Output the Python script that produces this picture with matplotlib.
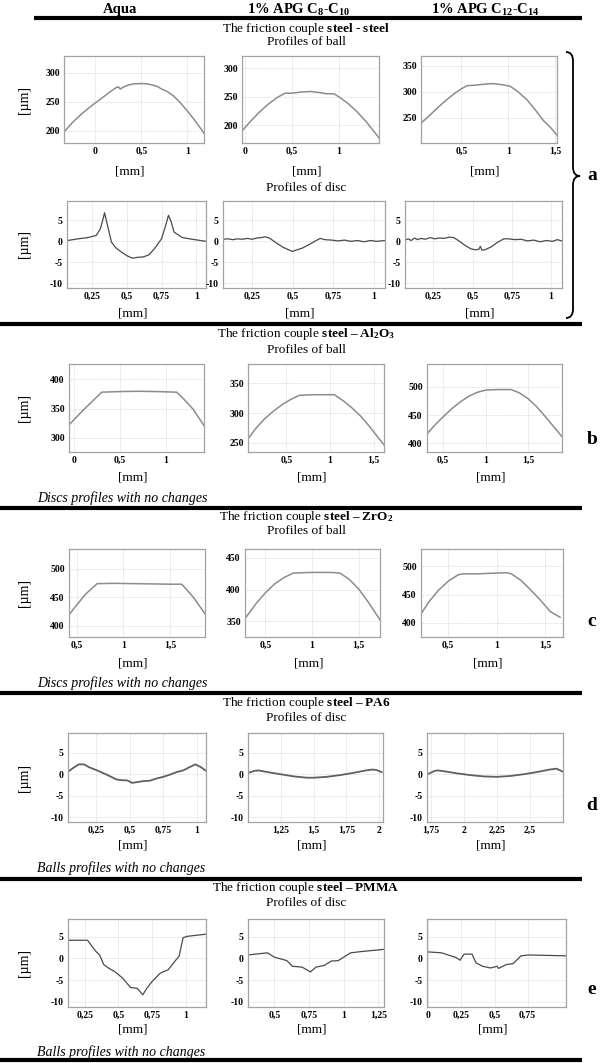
import matplotlib
matplotlib.use('Agg')
import matplotlib.pyplot as plt
from matplotlib.lines import Line2D
from matplotlib.path import Path
from matplotlib.patches import PathPatch

plt.rcParams['font.family'] = 'Liberation Serif'
plt.rcParams['mathtext.fontset'] = 'custom'
plt.rcParams['mathtext.rm'] = 'Liberation Serif'
plt.rcParams['mathtext.bf'] = 'Liberation Serif:bold'
plt.rcParams['mathtext.it'] = 'Liberation Serif:italic'

# ---- text ----
headers = ['Aqua',
           r'$\mathbf{1\%\ APG\ C_{8}}$-$\mathbf{C_{10}}$',
           r'$\mathbf{1\%\ APG\ C_{12}}$-$\mathbf{C_{14}}$']
couples = [r'The friction couple $\mathbf{steel}$ - $\mathbf{steel}$',
           r'The friction couple $\mathbf{steel\ –\ Al_2O_3}$',
           r'The friction couple $\mathbf{steel\ –\ ZrO_2}$',
           r'The friction couple $\mathbf{steel\ –\ PA6}$',
           r'The friction couple $\mathbf{steel\ –\ PMMA}$']
row_labels = ['a', 'b', 'c', 'd', 'e']

# ---- data: x in mm, y in um; one list per column (Aqua, C8-C10, C12-C14) ----
a_ball_x = [[-0.34, -0.25, -0.15, -0.05, 0.05, 0.15, 0.22, 0.25, 0.27, 0.3, 0.36, 0.42, 0.5, 0.56,
             0.62, 0.68, 0.72, 0.78, 0.85, 0.92, 1.0, 1.08, 1.18],
            [-0.03, 0.05, 0.15, 0.25, 0.35, 0.43, 0.5, 0.6, 0.7, 0.8, 0.87, 0.95, 1.0, 1.1, 1.2, 1.3, 1.43],
            [0.07, 0.15, 0.22, 0.28, 0.35, 0.42, 0.5, 0.56, 0.65, 0.75, 0.84, 0.93, 1.02, 1.1, 1.2,
             1.3, 1.37, 1.45, 1.52]]
a_ball_y = [[198, 214, 229, 242, 254, 266, 274, 276, 272, 275, 279, 281, 281.5, 281,
             279, 276, 272, 268, 260, 249, 234, 218, 196],
            [190, 205, 222, 237, 249, 256, 256, 258, 259, 257, 255, 255, 250, 238, 223, 205, 178],
            [240, 253, 265, 275, 286, 296, 306, 312, 313, 315, 316, 314, 311, 301, 285,
             263, 246, 232, 217]]

a_disc_x = [[0.074, 0.14, 0.22, 0.28, 0.31, 0.33, 0.34, 0.35, 0.37, 0.39, 0.42, 0.46, 0.5, 0.54, 0.58,
             0.62, 0.66, 0.7, 0.75, 0.78, 0.8, 0.82, 0.84, 0.9, 0.97, 1.07],
            [0.07, 0.1, 0.13, 0.16, 0.19, 0.22, 0.25, 0.28, 0.31, 0.33, 0.36, 0.4, 0.44, 0.48, 0.5,
             0.52, 0.56, 0.6, 0.64, 0.67, 0.7, 0.74, 0.78, 0.82, 0.86, 0.9, 0.94, 0.98, 1.02, 1.07],
            [0.07, 0.09, 0.11, 0.13, 0.15, 0.17, 0.2, 0.23, 0.26, 0.29, 0.32, 0.35, 0.38, 0.41, 0.45,
             0.49, 0.52, 0.54, 0.55, 0.56, 0.58, 0.62, 0.66, 0.7, 0.73, 0.77, 0.81, 0.85, 0.89, 0.93,
             0.97, 1.01, 1.04, 1.07]]
a_disc_y = [[0.2, 0.55, 0.9, 1.4, 3.0, 5.4, 6.8, 5.4, 2.6, -0.2, -1.5, -2.5, -3.4, -4.0, -3.8,
             -3.7, -3.2, -1.7, 0.6, 3.8, 6.2, 4.6, 2.2, 0.9, 0.5, 0.0],
            [0.5, 0.6, 0.4, 0.6, 0.5, 0.7, 0.5, 0.8, 0.9, 1.1, 0.7, -0.4, -1.4, -2.1, -2.4,
             -2.1, -1.6, -0.8, 0.1, 0.7, 0.4, 0.3, 0.1, 0.3, 0.0, 0.2, -0.1, 0.2, 0.0, 0.2],
            [0.3, 0.6, 0.2, 0.8, 0.4, 0.7, 0.5, 0.9, 0.6, 0.8, 0.7, 1.0, 0.9, 0.2, -0.9,
             -1.8, -2.0, -1.9, -1.2, -2.1, -2.0, -1.3, -0.2, 0.6, 0.6, 0.4, 0.5, 0.1, 0.3, -0.1,
             0.2, 0.0, 0.4, 0.1]]

b_ball_x = [[-0.06, 0.0, 0.1, 0.2, 0.3, 0.5, 0.7, 0.9, 1.12, 1.2, 1.3, 1.42],
            [0.06, 0.15, 0.25, 0.35, 0.45, 0.55, 0.65, 0.8, 0.95, 1.05, 1.15, 1.25, 1.35, 1.45, 1.55, 1.62],
            [0.31, 0.4, 0.5, 0.6, 0.7, 0.8, 0.9, 1.0, 1.15, 1.3, 1.4, 1.5, 1.6, 1.7, 1.8, 1.9]]
b_ball_y = [[322, 332, 348, 363, 378, 379, 379.5, 379, 378, 366, 349, 321],
            [256, 274, 290, 303, 314, 323, 330, 331, 331, 331, 321, 309, 295, 278, 259, 246],
            [417, 432, 447, 461, 473, 483, 490, 494, 495, 495, 489, 479, 465, 448, 430, 412]]

c_ball_x = [[0.42, 0.5, 0.6, 0.7, 0.72, 0.9, 1.1, 1.3, 1.5, 1.62, 1.65, 1.75, 1.87],
            [0.28, 0.4, 0.5, 0.6, 0.7, 0.8, 1.0, 1.2, 1.3, 1.4, 1.5, 1.6, 1.73],
            [0.22, 0.3, 0.4, 0.5, 0.6, 0.65, 0.8, 0.95, 1.1, 1.15, 1.25, 1.35, 1.45, 1.55, 1.65]]
c_ball_y = [[419, 436, 456, 471, 474, 474.5, 474, 473.5, 473, 473, 468, 449, 421],
            [354, 378, 395, 409, 419, 426, 427, 427, 426, 416, 401, 381, 352],
            [416, 437, 458, 474, 485, 487, 487, 488, 489, 487, 475, 458, 440, 420, 410]]

d_disc_x = [[0.04, 0.08, 0.12, 0.16, 0.2, 0.25, 0.3, 0.35, 0.4, 0.45, 0.48, 0.52, 0.56, 0.6, 0.65,
             0.7, 0.75, 0.8, 0.85, 0.9, 0.95, 0.99, 1.03, 1.07],
            [1.0, 1.05, 1.08, 1.15, 1.25, 1.35, 1.45, 1.5, 1.6, 1.7, 1.8, 1.9, 1.95, 1.98, 2.02],
            [1.73, 1.78, 1.8, 1.85, 1.95, 2.05, 2.15, 2.25, 2.35, 2.45, 2.55, 2.65, 2.7, 2.75]]
d_disc_y = [[0.6, 1.5, 2.3, 2.3, 1.6, 1.0, 0.3, -0.4, -1.2, -1.4, -1.4, -2.0, -1.8, -1.6, -1.5,
             -1.0, -0.6, -0.1, 0.5, 0.9, 1.7, 2.3, 1.7, 0.8],
            [0.3, 0.8, 0.9, 0.5, 0.0, -0.5, -0.8, -0.8, -0.6, -0.2, 0.3, 0.9, 1.1, 1.0, 0.5],
            [0.1, 0.8, 0.9, 0.7, 0.2, -0.2, -0.5, -0.6, -0.4, 0.0, 0.5, 1.1, 1.3, 0.6]]

e_disc_x = [[0.125, 0.2, 0.27, 0.33, 0.36, 0.39, 0.43, 0.47, 0.53, 0.59, 0.64, 0.67, 0.68, 0.71, 0.75,
             0.81, 0.87, 0.92, 0.95, 0.98, 1.01, 1.15],
            [0.31, 0.45, 0.5, 0.59, 0.63, 0.7, 0.76, 0.8, 0.86, 0.91, 0.96, 1.05, 1.13, 1.29],
            [0.0, 0.1, 0.21, 0.24, 0.27, 0.33, 0.36, 0.41, 0.47, 0.52, 0.53, 0.59, 0.64, 0.7, 0.76, 1.04]]
e_disc_y = [[4.2, 4.2, 4.2, 1.7, 0.8, -1.4, -2.3, -3.0, -4.5, -6.7, -6.9, -8.0, -8.4, -6.9, -5.3,
             -3.4, -2.6, -0.6, 0.5, 4.8, 5.1, 5.6],
            [0.8, 1.3, 0.3, -0.5, -1.8, -2.0, -3.1, -2.0, -1.6, -0.6, -0.5, 1.3, 1.6, 2.1],
            [1.5, 1.3, 0.2, -0.4, 1.0, 1.0, -1.0, -1.8, -2.2, -1.8, -2.3, -1.4, -1.2, 0.6, 0.8, 0.6]]

# tick values
a_ball_xt = [[0, 0.5, 1], [0, 0.5, 1], [0.5, 1, 1.5]]
a_ball_yt = [[200, 250, 300], [200, 250, 300], [250, 300, 350]]
disc_yt = [-10, -5, 0, 5]
a_disc_xt = [[0.25, 0.5, 0.75, 1]] * 3
b_ball_xt = [[0, 0.5, 1], [0.5, 1, 1.5], [0.5, 1, 1.5]]
b_ball_yt = [[300, 350, 400], [250, 300, 350], [400, 450, 500]]
c_ball_xt = [[0.5, 1, 1.5]] * 3
c_ball_yt = [[400, 450, 500], [350, 400, 450], [400, 450, 500]]
d_disc_xt = [[0.25, 0.5, 0.75, 1], [1.25, 1.5, 1.75, 2], [1.75, 2, 2.25, 2.5]]
e_disc_xt = [[0.25, 0.5, 0.75, 1], [0.5, 0.75, 1, 1.25], [0, 0.25, 0.5, 0.75]]

# ---- layout (pixels) ----
W, H = 600, 1063
fig = plt.figure(figsize=(6, 10.63), dpi=100)


def fx(x):
    return x / W


def fy(y):
    return 1 - y / H


def text(x, y, s, **kw):
    fig.text(fx(x), fy(y), s, ha=kw.pop('ha', 'center'), va=kw.pop('va', 'center'), **kw)


def hline(x0, x1, y, lw=3.0):
    fig.add_artist(Line2D([fx(x0), fx(x1)], [fy(y), fy(y)], lw=lw, color='black',
                          solid_capstyle='butt'))


def fmt(t):
    return f'{t:g}'.replace('.', ',')


def panel(box, top, bot, mm_y, x, y, xlim, ylim, xt, yt, color, lw, ylabel):
    x0, x1 = box
    ax = fig.add_axes([fx(x0), fy(bot), (x1 - x0) / W, (bot - top) / H])
    ax.plot(x, y, color=color, lw=lw)
    ax.set_xlim(*xlim)
    ax.set_ylim(*ylim)
    ax.set_xticks(xt, [fmt(t) for t in xt])
    ax.set_yticks(yt, [fmt(t) for t in yt])
    ax.tick_params(length=0, labelsize=7, pad=3)
    for lab in ax.get_xticklabels() + ax.get_yticklabels():
        lab.set_fontweight('bold')
    ax.grid(True, color='#d6d6d6', lw=0.6, ls=(0, (1, 1)))
    ax.set_axisbelow(True)
    for s in ax.spines.values():
        s.set_color('#a3a3a3')
        s.set_linewidth(0.9)
    text((x0 + x1) / 2 - 4, mm_y, '[mm]', fontsize=9.5)
    if ylabel:
        text(24, (top + bot) / 2, '[µm]', rotation=90, fontsize=10)


ball_c, ball_lw = '#8c8c8c', 1.1
disc_c, disc_lw = '#4a4a4a', 0.9

rows = [
    # x, y, xt, yt, xlims, ylims, top, bot, mm_y, boxes, color, lw
    (a_ball_x, a_ball_y, a_ball_xt, a_ball_yt,
     [(-0.34, 1.18), (-0.03, 1.43), (0.07, 1.52)], [(179, 329), (169, 321), (202, 369)],
     56, 143, 172, [(64, 204), (242, 379), (421, 557)], ball_c, ball_lw),
    (a_disc_x, a_disc_y, a_disc_xt, [disc_yt] * 3,
     [(0.07, 1.07)] * 3, [(-11.1, 9.6)] * 3,
     201, 288, 314, [(67, 206), (223, 385), (405, 562)], disc_c, disc_lw),
    (b_ball_x, b_ball_y, b_ball_xt, b_ball_yt,
     [(-0.06, 1.42), (0.06, 1.62), (0.31, 1.9)], [(276, 426), (234, 383), (385, 540)],
     364, 452, 478, [(69, 204), (248, 384), (427, 562)], ball_c, ball_lw),
    (c_ball_x, c_ball_y, c_ball_xt, c_ball_yt,
     [(0.42, 1.87), (0.28, 1.73), (0.22, 1.68)], [(380, 535), (325, 464), (375, 531)],
     549, 637, 663, [(69, 205), (245, 380), (421, 563)], ball_c, ball_lw),
    (d_disc_x, d_disc_y, d_disc_xt, [disc_yt] * 3,
     [(0.04, 1.07), (1.0, 2.03), (1.72, 2.75)], [(-11.1, 9.6)] * 3,
     733, 822, 845, [(68, 206), (248, 383), (427, 563)], '#606060', 1.3),
    (e_disc_x, e_disc_y, e_disc_xt, [disc_yt] * 3,
     [(0.125, 1.15), (0.31, 1.29), (-0.01, 1.04)], [(-11.2, 9.1)] * 3,
     919, 1007, 1030, [(68, 206), (248, 384), (427, 566)], disc_c, disc_lw),
]

for xs, ys, xts, yts, xlims, ylims, top, bot, mm_y, boxes, color, lw in rows:
    for i in range(3):
        panel(boxes[i], top, bot, mm_y, xs[i], ys[i], xlims[i], ylims[i], xts[i], yts[i],
              color, lw, ylabel=(i == 0))

# headers and separators
for hx, h in zip([120, 299, 485], headers):
    text(hx, 10, h, fontsize=10.5, fontweight='bold')
hline(34, 582, 18)
for yl in [324, 508, 693, 879, 1060]:
    hline(0, 582, yl)

# section titles
title_y = [29, 334, 517, 703, 888]
sub_y = [42, 350, 531, 718, 903]
subs = ['Profiles of ball', 'Profiles of ball', 'Profiles of ball', 'Profiles of disc', 'Profiles of disc']
for t, ty, s, sy in zip(couples, title_y, subs, sub_y):
    text(306, ty, t, fontsize=9.5, fontweight='bold' if False else 'normal')
    text(306, sy, s, fontsize=9.5)
text(306, 188, 'Profiles of disc', fontsize=9.5)

notes = [(498, 'Discs profiles with no changes'), (683, 'Discs profiles with no changes'),
         (868, 'Balls profiles with no changes'), (1052, 'Balls profiles with no changes')]
for ny, n in notes:
    text(37, ny, n, ha='left', fontsize=10, style='italic')

# right-hand letters and the brace for group a
for lab, ly in zip(row_labels, [176, 440, 622, 805, 990]):
    text(592, ly, lab, fontsize=14, fontweight='bold')

bx = 573
pts = [(566, 52), (bx, 52), (bx, 61), (bx, 167), (bx, 176), (bx + 7, 176),
       (bx, 176), (bx, 185), (bx, 309), (bx, 318), (566, 318)]
codes = [Path.MOVETO, Path.CURVE3, Path.CURVE3, Path.LINETO, Path.CURVE3, Path.CURVE3,
         Path.CURVE3, Path.CURVE3, Path.LINETO, Path.CURVE3, Path.CURVE3]
brace = Path([(fx(px), fy(py)) for px, py in pts], codes)
fig.add_artist(PathPatch(brace, transform=fig.transFigure, fill=False, lw=1.3, color='black'))

fig.savefig('out.png', dpi=100)
